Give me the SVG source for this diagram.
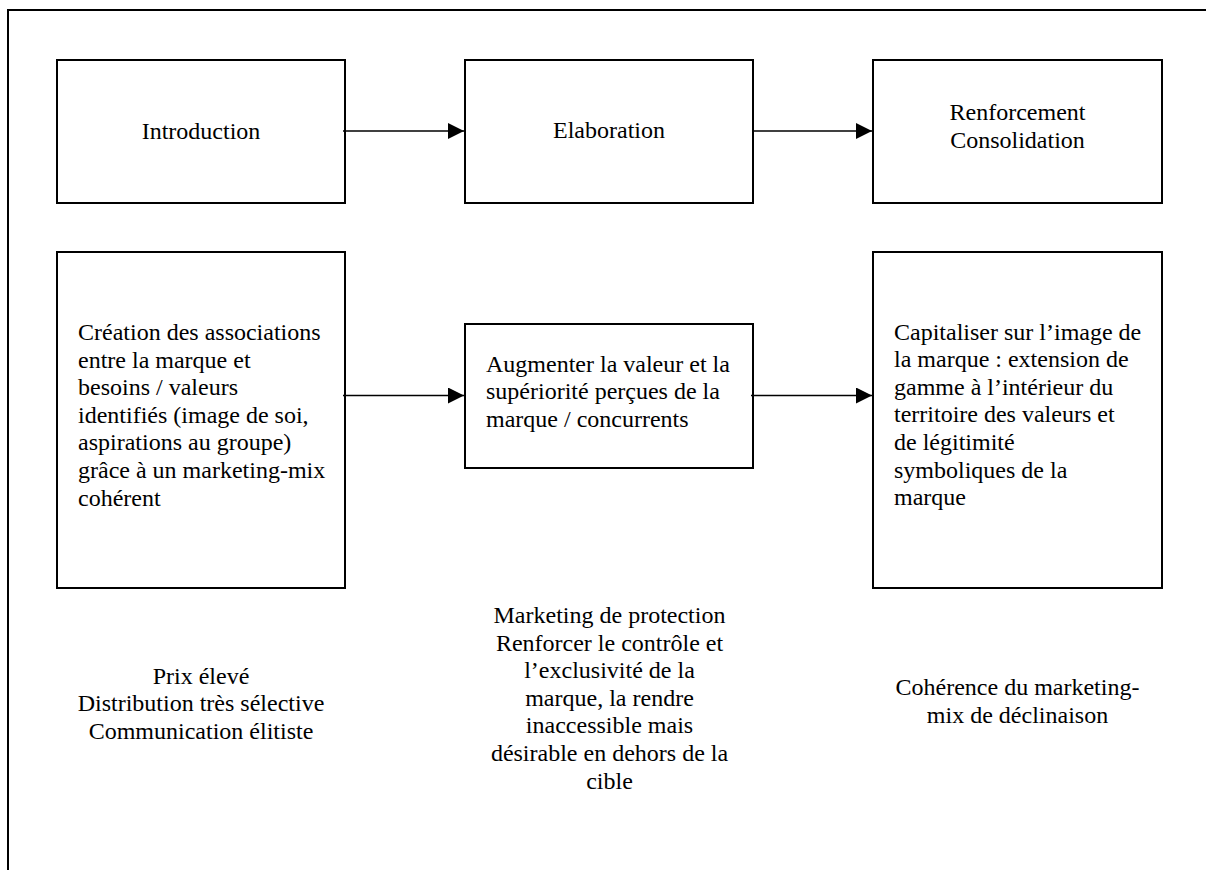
<svg xmlns="http://www.w3.org/2000/svg" width="1206" height="870" viewBox="0 0 1206 870">
<style>
.box{fill:#fff;stroke:#000;stroke-width:2}
.lbl{font-size:24px;fill:#000}
.c{text-anchor:middle}
.conn{stroke:#000;stroke-width:1.6;fill:none}
.frame{stroke:#000;stroke-width:2;fill:none}
</style>
<defs>
<marker id="arr" viewBox="0 0 16 16" markerWidth="16" markerHeight="16" markerUnits="userSpaceOnUse" refX="16" refY="8" orient="auto">
<path d="M0,0 L16,8 L0,16 z" fill="#000"/>
</marker>
</defs>
<g font-family="Liberation Serif, DejaVu Serif, serif">
<path class="frame" d="M8,870 L8,10 L1206,10"/>
<g id="n-introduction">
<rect class="box" x="57" y="60" width="288" height="143"/>
<text class="lbl c" x="201" y="139">Introduction</text>
</g>
<g id="n-elaboration">
<rect class="box" x="465" y="60" width="288" height="143"/>
<text class="lbl c" x="609" y="138">Elaboration</text>
</g>
<g id="n-renforcement">
<rect class="box" x="873" y="60" width="289" height="143"/>
<text class="lbl c" x="1017.5" y="120">Renforcement</text>
<text class="lbl c" x="1017.5" y="147.6">Consolidation</text>
</g>
<g id="n-creation">
<rect class="box" x="57" y="252" width="288" height="336"/>
<text class="lbl" x="78" y="340">Création des associations</text>
<text class="lbl" x="78" y="367.6">entre la marque et</text>
<text class="lbl" x="78" y="395.2">besoins / valeurs</text>
<text class="lbl" x="78" y="422.8">identifiés (image de soi,</text>
<text class="lbl" x="78" y="450.4">aspirations au groupe)</text>
<text class="lbl" x="78" y="478">grâce à un marketing-mix</text>
<text class="lbl" x="78" y="505.6">cohérent</text>
</g>
<g id="n-augmenter">
<rect class="box" x="465" y="324" width="288" height="144"/>
<text class="lbl" x="486" y="371.7">Augmenter la valeur et la</text>
<text class="lbl" x="486" y="399.3">supériorité perçues de la</text>
<text class="lbl" x="486" y="426.9">marque / concurrents</text>
</g>
<g id="n-capitaliser">
<rect class="box" x="873" y="252" width="289" height="336"/>
<text class="lbl" x="894" y="339.5">Capitaliser sur l’image de</text>
<text class="lbl" x="894" y="367.1">la marque : extension de</text>
<text class="lbl" x="894" y="394.7">gamme à l’intérieur du</text>
<text class="lbl" x="894" y="422.3">territoire des valeurs et</text>
<text class="lbl" x="894" y="449.9">de légitimité</text>
<text class="lbl" x="894" y="477.5">symboliques de la</text>
<text class="lbl" x="894" y="505.1">marque</text>
</g>
<g id="t-prix">
<text class="lbl c" x="201" y="683.5">Prix élevé</text>
<text class="lbl c" x="201" y="711.1">Distribution très sélective</text>
<text class="lbl c" x="201" y="738.7">Communication élitiste</text>
</g>
<g id="t-protection">
<text class="lbl c" x="609.5" y="623">Marketing de protection</text>
<text class="lbl c" x="609.5" y="650.6">Renforcer le contrôle et</text>
<text class="lbl c" x="609.5" y="678.2">l’exclusivité de la</text>
<text class="lbl c" x="609.5" y="705.8">marque, la rendre</text>
<text class="lbl c" x="609.5" y="733.4">inaccessible mais</text>
<text class="lbl c" x="609.5" y="761">désirable en dehors de la</text>
<text class="lbl c" x="609.5" y="788.6">cible</text>
</g>
<g id="t-coherence">
<text class="lbl c" x="1017.5" y="695">Cohérence du marketing-</text>
<text class="lbl c" x="1017.5" y="722.6">mix de déclinaison</text>
</g>
<g id="connectors">
<line class="conn" x1="343" y1="131" x2="464" y2="131" marker-end="url(#arr)"/>
<line class="conn" x1="753" y1="131" x2="872" y2="131" marker-end="url(#arr)"/>
<line class="conn" x1="343" y1="395.5" x2="464" y2="395.5" marker-end="url(#arr)"/>
<line class="conn" x1="751" y1="395.5" x2="872" y2="395.5" marker-end="url(#arr)"/>
</g>
</g>
</svg>
